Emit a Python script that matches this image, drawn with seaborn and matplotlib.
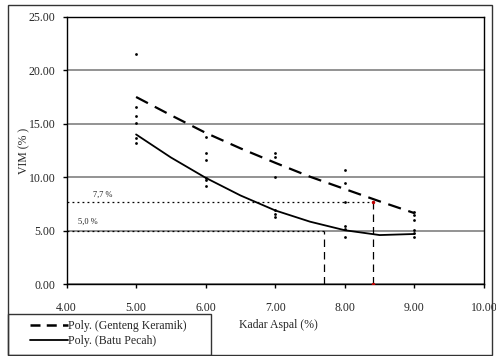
import numpy as np
import pandas as pd
import matplotlib
matplotlib.use("Agg")
import matplotlib.pyplot as plt
import seaborn as sns
from matplotlib.patches import Rectangle
from matplotlib.lines import Line2D

# ---- data ----
pts_x_genteng = [5, 5, 5, 6, 6, 6, 7, 7, 7, 8, 8, 8, 9, 9, 9]
pts_y_genteng = [21.5, 16.6, 15.7, 13.8, 12.3, 11.6, 12.25, 11.9, 10.0, 10.7, 9.5, 7.7, 6.8, 6.5, 6.0]
pts_x_batu = [5, 5, 5, 6, 6, 6, 7, 7, 7, 8, 8, 8, 9, 9, 9]
pts_y_batu = [15.1, 13.65, 13.2, 9.9, 9.75, 9.2, 6.9, 6.57, 6.26, 5.45, 5.14, 4.45, 5.1, 4.75, 4.45]

trend_x = [5.0, 5.5, 6.0, 6.5, 7.0, 7.5, 8.0, 8.5, 9.0]
trend_genteng = [17.5, 15.8, 14.15, 12.7, 11.35, 10.05, 8.9, 7.75, 6.65]
trend_batu = [14.0, 11.85, 9.95, 8.3, 6.9, 5.85, 5.05, 4.6, 4.7]

ref_levels = [7.7, 5.0]
ref_x = [8.4, 7.7]
ref_labels = ["7,7 %", "5,0 %"]

x_ticks = [4, 5, 6, 7, 8, 9, 10]
y_ticks = [0, 5, 10, 15, 20, 25]

legend_labels = ["Poly. (Genteng Keramik)", "Poly. (Batu Pecah)"]

# ---- style ----
sns.set_theme(style="white")
plt.rcParams["font.family"] = ["Liberation Serif", "DejaVu Serif"]

W, H = 496, 356
fig = plt.figure(figsize=(W / 100, H / 100), dpi=100)
ax = fig.add_axes([66.5 / W, 1 - 284.3 / H, (484 - 66.5) / W, (284.3 - 16.7) / H])

pts = pd.DataFrame({
    "x": pts_x_genteng + pts_x_batu,
    "y": pts_y_genteng + pts_y_batu,
})
sns.scatterplot(data=pts, x="x", y="y", ax=ax, color="black", s=4,
                linewidth=0, legend=False, zorder=4)

tr = pd.DataFrame({"x": trend_x, "g": trend_genteng, "b": trend_batu})
sns.lineplot(data=tr, x="x", y="g", ax=ax, color="black", lw=1.6,
             dashes=False, zorder=5).lines[-1].set_dashes((6, 3.5))
sns.lineplot(data=tr, x="x", y="b", ax=ax, color="black", lw=1.3, zorder=5)

# reference lines
for lvl, xe in zip(ref_levels, ref_x):
    ax.plot([4, xe], [lvl, lvl], color="black", lw=0.9, dashes=(1.5, 2.5), zorder=3)
    ax.plot([xe, xe], [0, lvl], color="black", lw=0.9, dashes=(6, 4), zorder=3)
ax.plot([8.4, 8.4], [7.7, 0], "o", color="#c00000", ms=1.5, zorder=6)
ax.text(4.38, 8.35, ref_labels[0], fontsize=6, va="center", ha="left", color="#222222")
ax.text(4.17, 5.85, ref_labels[1], fontsize=6, va="center", ha="left", color="#222222")

ax.set_xlim(4, 10)
ax.set_ylim(0, 25)
ax.set_xticks(x_ticks)
ax.set_yticks(y_ticks)
ax.set_xticklabels([f"{v:.2f}" for v in x_ticks])
ax.set_yticklabels([f"{v:.2f}" for v in y_ticks])
ax.tick_params(axis="x", direction="out", length=3, width=1, pad=10,
               labelsize=8.5, color="black", bottom=True)
ax.tick_params(axis="y", direction="out", length=3, width=1, pad=5,
               labelsize=8.5, color="black", left=True)
ax.yaxis.grid(True, color="#808080", lw=1.2)
ax.xaxis.grid(False)
ax.set_axisbelow(True)
for s in ax.spines.values():
    s.set_color("black")
    s.set_linewidth(1.0)
    s.set_visible(True)
ax.set_xlabel("")
ax.set_ylabel("VIM (% )", fontsize=8.5)
ax.yaxis.set_label_coords((30 - 66.5) / 417.5, 0.5)

fig.text(278 / W, 1 - 325 / H, "Kadar Aspal (%)", fontsize=8.5, ha="center", va="center")

# outer chart frame
fig.patches.append(Rectangle((8 / W, 1 - 354.5 / H), (491.5 - 8) / W, (354.5 - 5) / H,
                             transform=fig.transFigure, fill=False,
                             edgecolor="#333333", lw=1.0, zorder=0))
# legend frame
fig.patches.append(Rectangle((8 / W, 1 - 355 / H), (211 - 8) / W, (355 - 314) / H,
                             transform=fig.transFigure, fill=False,
                             edgecolor="#333333", lw=1.0, zorder=1))
handles = [Line2D([], [], color="black", lw=1.8, dashes=(4, 2.5)),
           Line2D([], [], color="black", lw=1.3)]
fig.legend(handles, legend_labels, loc="center left",
           bbox_to_anchor=(30 / W, 1 - 333.5 / H), frameon=False,
           fontsize=8.5, handlelength=3.2, handletextpad=0.05,
           borderpad=0, borderaxespad=0, labelspacing=0.3)

fig.savefig("out.png", dpi=100)
